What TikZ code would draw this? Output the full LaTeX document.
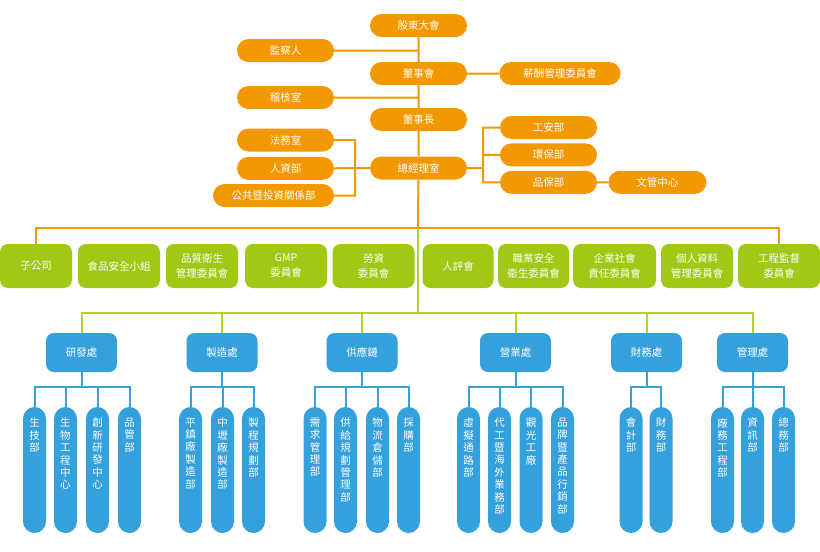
\documentclass[tikz,border=0pt]{standalone}
\usepackage{fontspec}
\newfontfamily\cjk{Noto Sans CJK TC}
\usetikzlibrary{positioning, calc}
\definecolor{orgorange}{RGB}{243,152,0}
\definecolor{orggreen}{RGB}{160,200,20}
\definecolor{orglime}{RGB}{180,210,45}
\definecolor{orgblue}{RGB}{52,160,220}
\newcommand{\vtext}[1]{\parbox[c][104pt][t]{14pt}{\centering #1}}
\tikzset{
  execbox/.style={
    fill=orgorange, text=white, rounded corners=11.5pt, inner sep=0pt,
    minimum width=97pt, minimum height=23pt,
    font=\cjk\fontsize{10.5}{12}\selectfont
  },
  cmtbox/.style={
    fill=orggreen, text=white, rounded corners=8pt, inner sep=0pt,
    minimum width=82pt, minimum height=44pt, align=center,
    font=\cjk\fontsize{10.5}{15}\selectfont
  },
  divbox/.style={
    fill=orgblue, text=white, rounded corners=8pt, inner sep=0pt,
    minimum width=71pt, minimum height=39pt,
    font=\cjk\fontsize{10.5}{12}\selectfont
  },
  deptbox/.style={
    fill=orgblue, text=white, rounded corners=11.5pt, inner sep=0pt,
    minimum width=23pt, minimum height=126pt,
    font=\cjk\fontsize{10.5}{12.4}\selectfont
  },
  orangeline/.style={draw=orgorange, line width=2pt},
  limeline/.style={draw=orglime, line width=2pt},
  blueline/.style={draw=orgblue, line width=2pt},
  bus/.style={to path={|- ($(\tikztostart)!0.43!(\tikztotarget)$) -| (\tikztotarget)}}
}

\begin{document}
\begin{tikzpicture}[x=1pt, y=-1pt]
    \useasboundingbox (0,0) rectangle (820,552);

    % top management
    \node[execbox] (gudong) at (418.5,25.5) {股東大會};
    \node[execbox] (jiancha) at (285.5,50.5) {監察人};
    \node[execbox] (dongshihui) at (418.5,73.5) {董事會};
    \node[execbox, minimum width=121pt] (xinchou) at (560,73.5) {薪酬管理委員會};
    \node[execbox] (jihe) at (285.5,97.5) {稽核室};
    \node[execbox] (dongshizhang) at (418.5,119.5) {董事長};
    \node[execbox] (zongjingli) at (418.5,168) {總經理室};
    \node[execbox] (fawu) at (285.5,140) {法務室};
    \node[execbox, below=5pt of fawu] (renzi) {人資部};
    \node[execbox, minimum width=121pt] (gonggong) at (273.5,195.5) {公共暨投資關係部};
    \node[execbox] (gongan) at (548.5,127.5) {工安部};
    \node[execbox, below=4pt of gongan] (huanbao) {環保部};
    \node[execbox, below=4pt of huanbao] (pinbao) {品保部};
    \node[execbox, minimum width=98pt, right=11pt of pinbao] (wenguan) {文管中心};

    \coordinate (lbr) at (355,168);
    \coordinate (rbr) at (483,168);
    \coordinate (obus) at (418,228);
    \coordinate (gbus) at (418,313);

    \draw[orangeline] (gudong) -- (dongshihui) -- (dongshizhang) -- (zongjingli) -- (obus);
    \draw[orangeline] (jiancha) -- (jiancha -| gudong)
                      (jihe) -- (jihe -| dongshihui)
                      (dongshihui) -- (xinchou)
                      (fawu) -| (lbr) |- (gonggong)
                      (renzi) -- (zongjingli)
                      (zongjingli) -- (rbr)
                      (gongan) -| (rbr) |- (pinbao)
                      (huanbao) -| (rbr)
                      (pinbao) -- (wenguan);

    % committees
    \node[cmtbox, minimum width=72pt] (zigongsi) at (36,266) {子公司};
    \node[cmtbox] (shipin) at (119,266) {食品安全小組};
    \node[cmtbox, minimum width=72pt] (pinzhi) at (202,266) {品質衛生\\管理委員會};
    \node[cmtbox] (gmp) at (286,266) {GMP\\委員會};
    \node[cmtbox] (laozi) at (373.5,266) {勞資\\委員會};
    \node[cmtbox, minimum width=71pt] (renping) at (458,266) {人評會};
    \node[cmtbox, minimum width=71pt] (zhiye) at (533.5,266) {職業安全\\衛生委員會};
    \node[cmtbox, minimum width=83pt] (qiye) at (614.5,266) {企業社會\\責任委員會};
    \node[cmtbox, minimum width=72pt] (geren) at (697,266) {個人資料\\管理委員會};
    \node[cmtbox] (gongcheng) at (779,266) {工程監督\\委員會};

    \draw[orangeline] (zigongsi.north) |- (obus) -| (gongcheng.north);

    % divisions
    \node[divbox] (yanfa) at (81.5,352.5) {研發處};
    \node[divbox] (zhizao) at (222,352.5) {製造處};
    \node[divbox] (gongying) at (362,352.5) {供應鏈};
    \node[divbox] (yingye) at (515.5,352.5) {營業處};
    \node[divbox] (caiwu) at (646.5,352.5) {財務處};
    \node[divbox] (guanli) at (752.5,352.5) {管理處};

    \draw[limeline] (obus) -- (gbus);
    \draw[limeline] (yanfa.north) |- (gbus) -| (guanli.north)
                    (zhizao.north) |- (gbus)
                    (gongying.north) |- (gbus)
                    (yingye.north) |- (gbus)
                    (caiwu.north) |- (gbus);

    % departments
    \node[deptbox] (yf1) at (34.5,470) {\vtext{生\\技\\部}};
    \node[deptbox] (yf2) at (65.5,470) {\vtext{生\\物\\工\\程\\中\\心}};
    \node[deptbox] (yf3) at (97.5,470) {\vtext{創\\新\\研\\發\\中\\心}};
    \node[deptbox] (yf4) at (129.5,470) {\vtext{品\\管\\部}};
    \node[deptbox] (zz1) at (190.5,470) {\vtext{平\\鎮\\廠\\製\\造\\部}};
    \node[deptbox] (zz2) at (222.5,470) {\vtext{中\\壢\\廠\\製\\造\\部}};
    \node[deptbox] (zz3) at (253.5,470) {\vtext{製\\程\\規\\劃\\部}};
    \node[deptbox] (gy1) at (315,470) {\vtext{需\\求\\管\\理\\部}};
    \node[deptbox] (gy2) at (345.5,470) {\vtext{供\\給\\規\\劃\\管\\理\\部}};
    \node[deptbox] (gy3) at (377.5,470) {\vtext{物\\流\\倉\\儲\\部}};
    \node[deptbox] (gy4) at (408.5,470) {\vtext{採\\購\\部}};
    \node[deptbox] (yy1) at (468.5,470) {\vtext{虛\\擬\\通\\路\\部}};
    \node[deptbox] (yy2) at (499.5,470) {\vtext{代\\工\\暨\\海\\外\\業\\務\\部}};
    \node[deptbox] (yy3) at (531,470) {\vtext{觀\\光\\工\\廠}};
    \node[deptbox] (yy4) at (562.5,470) {\vtext{品\\牌\\暨\\產\\品\\行\\銷\\部}};
    \node[deptbox] (cw1) at (631,470) {\vtext{會\\計\\部}};
    \node[deptbox] (cw2) at (661,470) {\vtext{財\\務\\部}};
    \node[deptbox] (gl1) at (722.5,470) {\vtext{廠\\務\\工\\程\\部}};
    \node[deptbox] (gl2) at (752.5,470) {\vtext{資\\訊\\部}};
    \node[deptbox] (gl3) at (783.5,470) {\vtext{總\\務\\部}};

    \draw[blueline] (yanfa.south) edge[bus] (yf1.north) edge[bus] (yf2.north)
                                  edge[bus] (yf3.north) edge[bus] (yf4.north)
                    (zhizao.south) edge[bus] (zz1.north) edge[bus] (zz2.north)
                                   edge[bus] (zz3.north)
                    (gongying.south) edge[bus] (gy1.north) edge[bus] (gy2.north)
                                     edge[bus] (gy3.north) edge[bus] (gy4.north)
                    (yingye.south) edge[bus] (yy1.north) edge[bus] (yy2.north)
                                   edge[bus] (yy3.north) edge[bus] (yy4.north)
                    (caiwu.south) edge[bus] (cw1.north) edge[bus] (cw2.north)
                    (guanli.south) edge[bus] (gl1.north) edge[bus] (gl2.north)
                                   edge[bus] (gl3.north);
\end{tikzpicture}
\end{document}
